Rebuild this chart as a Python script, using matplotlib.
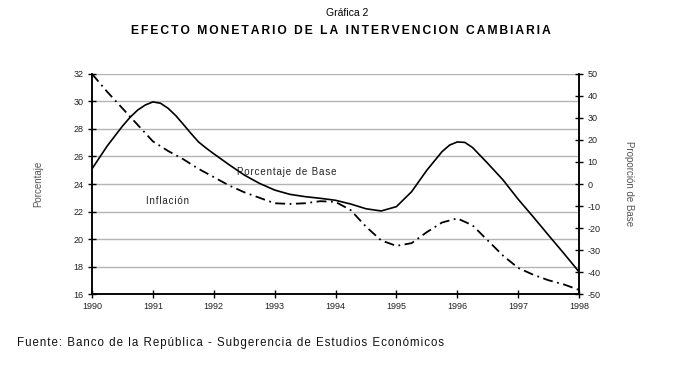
import matplotlib
matplotlib.use("Agg")
import matplotlib.pyplot as plt
import numpy as np

plt.rcParams['font.family'] = ['Liberation Sans', 'DejaVu Sans']
plt.rcParams['axes.unicode_minus'] = False

# valores
anos_infl = np.arange(1990, 1998.01, 0.25)
inflacion = [32.0, 30.7, 29.5, 28.3, 27.1, 26.4, 25.8, 25.1, 24.5,
             23.9, 23.4, 23.0, 22.6, 22.55, 22.6, 22.75, 22.7,
             22.1, 20.9, 19.9, 19.5, 19.7, 20.5, 21.2, 21.5,
             21.0, 19.9, 18.8, 17.9, 17.4, 17.0, 16.7, 16.3]

anos_base = [1990, 1990.25, 1990.5, 1990.625, 1990.75, 1990.875, 1991,
             1991.125, 1991.25, 1991.375, 1991.5, 1991.625, 1991.75,
             1991.875, 1992, 1992.25, 1992.5, 1992.75, 1993, 1993.25,
             1993.5, 1993.75, 1994, 1994.25, 1994.5, 1994.75, 1995,
             1995.25, 1995.5, 1995.75, 1995.875, 1996, 1996.125, 1996.25,
             1996.5, 1996.75, 1997, 1997.25, 1997.5, 1997.75, 1998]
base = [6.9, 17.3, 26.3, 30.3, 33.6, 35.9, 37.3,
        36.7, 34.4, 31.1, 27.1, 23.0, 19.1,
        16.3, 13.75, 8.8, 4.1, 0.3, -2.75, -4.7,
        -5.75, -6.5, -7.4, -9.1, -11.25, -12.25, -10.3,
        -3.5, 6.25, 14.7, 17.7, 19.1, 18.9, 16.6,
        9.4, 1.9, -6.9, -15.0, -23.3, -31.5, -39.9]

ticks_izq = np.arange(16, 33, 2)
ticks_der = np.arange(-50, 51, 10)
ticks_x = np.arange(1990, 1999)

HS = '\u200a'


def espaciado(s, n=1):
    return (HS * n).join(s)


fig = plt.figure(figsize=(6.95, 3.68), dpi=100)
ax = fig.add_axes([0.1324, 0.201, 0.7007, 0.598])
ax2 = ax.twinx()

ax.plot(anos_infl, inflacion, color='black', lw=1.3,
        linestyle=(0, (5.5, 2.5, 1, 2.5)), zorder=3)
ax2.plot(anos_base, base, color='black', lw=1.2, zorder=3)

ax.set_xlim(1990, 1998)
ax.set_ylim(16, 32)
ax2.set_ylim(-50, 50)
ax.set_xticks(ticks_x)
ax.set_yticks(ticks_izq)
ax2.set_yticks(ticks_der)
ax.grid(axis='y', color='#b4b4b4', lw=1)
ax.set_axisbelow(True)

for a in (ax, ax2):
    a.spines['top'].set_visible(False)
    for s in ('left', 'right', 'bottom'):
        a.spines[s].set_linewidth(1.1)
ax.tick_params(axis='both', direction='inout', length=6, width=1,
               labelsize=6.5, pad=3, colors='black', labelcolor='#222222')
ax2.tick_params(axis='y', direction='inout', length=6, width=1,
                labelsize=6.5, pad=3, labelcolor='#222222')

ax.set_ylabel('Porcentaje', fontsize=7, color='#555555', labelpad=22)
ax2.set_ylabel('Proporción de Base', fontsize=7, color='#555555',
               rotation=270, labelpad=24)

ax.text(1992.38, 24.87, espaciado('Porcentaje de Base'), fontsize=7,
        color='#222222', va='center')
ax.text(1990.88, 22.75, espaciado('Inflación'), fontsize=7,
        color='#222222', va='center')

fig.text(0.5, 0.965, 'Gráfica 2', ha='center', va='center', fontsize=7.5)
fig.text(0.491, 0.915, espaciado('EFECTO MONETARIO DE LA INTERVENCION CAMBIARIA', 2),
         ha='center', va='center', fontsize=8.7, fontweight='bold')
fig.text(0.024, 0.068,
         espaciado('Fuente: Banco de la República - Subgerencia de Estudios Económicos'),
         ha='left', va='center', fontsize=8.3, color='#111111')

fig.savefig('out.png', dpi=100)
